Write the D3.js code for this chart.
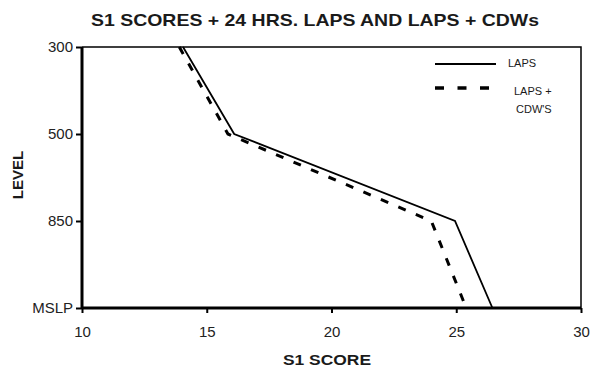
<!DOCTYPE html>
<html>
<head>
<meta charset="utf-8">
<script src="https://cdn.jsdelivr.net/npm/d3@7"></script>
<style>
  body { margin: 0; background: #fff; }
  svg { display: block; font-family: "Liberation Sans", Arial, sans-serif; }
</style>
</head>
<body>
<div id="container"></div>
<script>
// data
let levels = ["300", "500", "850", "MSLP"];
let lapsScores = [14.05, 16.1, 24.95, 26.45];
let cdwScores = [13.9, 15.85, 24.0, 25.4];
let xTicks = [10, 15, 20, 25, 30];

let margin = { left: 82, right: 12, top: 47, bottom: 61 };
let width = 593, height = 369;

let viz = d3.select("#container")
  .append("svg")
    .attr("width", width)
    .attr("height", height)
;

let x = d3.scaleLinear()
    .domain([10, 30])
    .range([margin.left, width - margin.right]);

let y = d3.scalePoint()
    .domain(levels)
    .range([margin.top, height - margin.bottom]);

// title
viz.append("text")
    .text("S1 SCORES + 24 HRS. LAPS AND LAPS + CDWs")
    .attr("x", 91)
    .attr("y", 26)
    .attr("font-size", 17)
    .attr("font-weight", "bold")
    .attr("fill", "#1a1a1a")
    .attr("textLength", 448)
    .attr("lengthAdjust", "spacingAndGlyphs")
;

// thin frame on top and right
viz.append("path")
    .attr("d", `M${x(10)},${y("300")}H${x(30)}V${y("MSLP")}`)
    .attr("fill", "none")
    .attr("stroke", "black")
    .attr("stroke-width", 1.5)
;

// y axis
let yAxis = viz.append("g")
    .attr("transform", `translate(${x(10)},0)`)
    .call(d3.axisLeft(y).tickSize(6).tickPadding(3))
;
yAxis.select(".domain").attr("stroke-width", 3).attr("d", `M0,${y("300")}V${y("MSLP")}`);
yAxis.selectAll(".tick line").attr("stroke-width", 2);
yAxis.selectAll(".tick text")
    .attr("font-size", 15)
    .attr("font-family", "Liberation Sans, Arial, sans-serif")
    .attr("fill", "#222");

// x axis
let xAxis = viz.append("g")
    .attr("transform", `translate(0,${y("MSLP")})`)
    .call(d3.axisBottom(x).tickValues(xTicks).tickSize(5).tickPadding(13))
;
xAxis.select(".domain").attr("stroke-width", 3).attr("d", `M${x(10)},0H${x(30)}`);
xAxis.selectAll(".tick line").attr("stroke-width", 2);
xAxis.selectAll(".tick text")
    .attr("font-size", 15)
    .attr("font-family", "Liberation Sans, Arial, sans-serif")
    .attr("fill", "#222");

// axis titles
viz.append("text")
    .text("S1 SCORE")
    .attr("x", 283)
    .attr("y", 365)
    .attr("font-size", 14.5)
    .attr("font-weight", "bold")
    .attr("fill", "#1a1a1a")
    .attr("textLength", 88)
    .attr("lengthAdjust", "spacingAndGlyphs")
;
viz.append("text")
    .text("LEVEL")
    .attr("transform", "translate(23,175) rotate(-90)")
    .attr("text-anchor", "middle")
    .attr("font-size", 15)
    .attr("font-weight", "bold")
    .attr("fill", "#1a1a1a")
;

let line = d3.line()
    .x(d => x(d[0]))
    .y(d => y(d[1]));

// LAPS + CDWs dashed
viz.append("path")
    .datum(d3.zip(cdwScores, levels))
    .attr("d", line)
    .attr("fill", "none")
    .attr("stroke", "black")
    .attr("stroke-width", 3)
    .attr("stroke-dasharray", "8,11")
;

// LAPS solid
viz.append("path")
    .datum(d3.zip(lapsScores, levels))
    .attr("d", line)
    .attr("fill", "none")
    .attr("stroke", "black")
    .attr("stroke-width", 1.8)
;

// legend
viz.append("line")
    .attr("x1", 435).attr("x2", 496)
    .attr("y1", 64).attr("y2", 64)
    .attr("stroke", "black")
    .attr("stroke-width", 1.8)
;
viz.append("text")
    .text("LAPS")
    .attr("x", 508)
    .attr("y", 67)
    .attr("font-size", 11)
    .attr("fill", "#1a1a1a")
;
viz.append("line")
    .attr("x1", 435).attr("x2", 490)
    .attr("y1", 88).attr("y2", 88)
    .attr("stroke", "black")
    .attr("stroke-width", 3.5)
    .attr("stroke-dasharray", "9,13.5")
;
viz.append("text")
    .text("LAPS +")
    .attr("x", 514)
    .attr("y", 95)
    .attr("font-size", 11)
    .attr("fill", "#1a1a1a")
;
viz.append("text")
    .text("CDW'S")
    .attr("x", 516)
    .attr("y", 113)
    .attr("font-size", 11)
    .attr("fill", "#1a1a1a")
;
</script>
</body>
</html>
